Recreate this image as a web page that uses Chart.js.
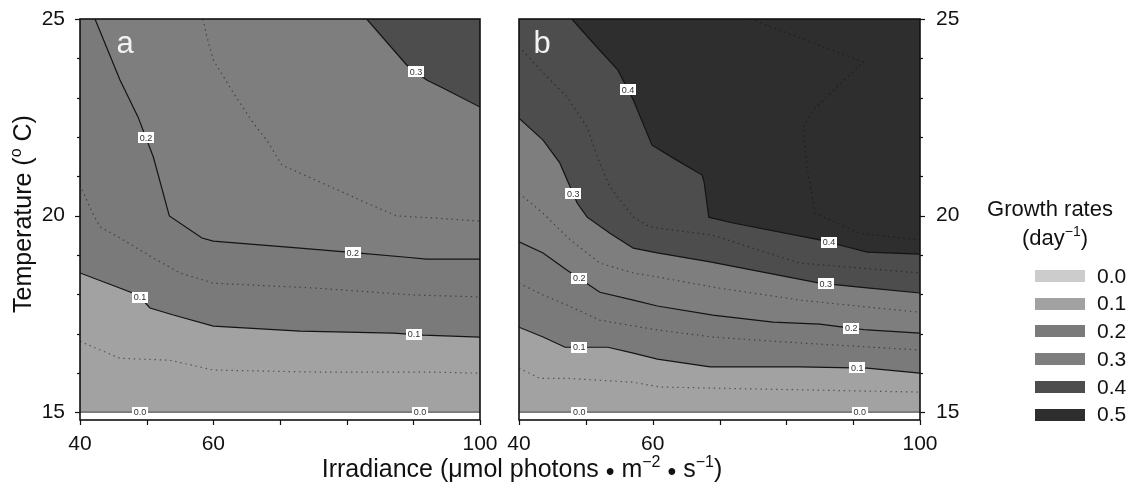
<!DOCTYPE html>
<html><head><meta charset="utf-8">
<script src="https://cdn.jsdelivr.net/npm/chart.js@4.4.0/dist/chart.umd.min.js"></script>
<style>
html,body{margin:0;padding:0;background:#fff;}
#wrap{position:relative;width:1132px;height:492px;overflow:hidden;}
canvas{position:absolute;left:0;top:0;width:1132px;height:492px;}
</style></head><body>
<div id="wrap"><canvas id="ca" width="1132" height="492"></canvas><canvas id="cb" width="1132" height="492"></canvas></div>
<script>
const FONT = '"Liberation Sans", Arial, Helvetica, sans-serif';

// ---- axes ----
const xTickVals = [40, 50, 60, 70, 80, 90, 100];
const xTickLabels = [40, 60, 100];
const yTickVals = [15, 16, 17, 18, 19, 20, 21, 22, 23, 24, 25];
const yTickLabels = [15, 20, 25];

// ---- legend ----
const legendLevels = ['0.0', '0.1', '0.2', '0.3', '0.4', '0.5'];
const legendColors = ['#cccccc', '#a2a2a2', '#7a7a7a', '#7e7e7e', '#4d4d4d', '#2e2e2e'];

// ---- panel a : contour lines (irradiance, temperature) ----
const aIrr00 = [40, 100];
const aTmp00 = [15, 15];
const aIrr01 = [40, 48.7, 50.5, 54, 60, 73, 87, 91.5, 100];
const aTmp01 = [18.54, 17.98, 17.65, 17.47, 17.19, 17.06, 17.01, 16.96, 16.91];
const aIrr02 = [42.25, 46, 48.7, 51, 53.4, 58.3, 60, 73, 81.5, 89, 92, 100];
const aTmp02 = [25, 23.45, 22.51, 21.49, 19.99, 19.43, 19.35, 19.17, 19.05, 18.94, 18.89, 18.89];
const aIrr03 = [83, 89, 92, 94.5, 100];
const aTmp03 = [25, 23.83, 23.45, 23.24, 22.76];
// dotted intermediate contours
const aIrr005 = [40, 46, 53.5, 60, 75, 93, 100];
const aTmp005 = [16.8, 16.37, 16.32, 16.07, 16.02, 16.02, 15.99];
const aIrr015 = [40, 41.8, 43, 45.5, 51.5, 55, 60, 75, 90, 100];
const aTmp015 = [20.78, 20.09, 19.71, 19.48, 18.87, 18.54, 18.28, 18.16, 17.98, 17.93];
const aIrr025 = [58.45, 59.05, 60, 63, 66, 68, 70.3, 73, 78, 83, 87.5, 93, 100];
const aTmp025 = [25, 24.54, 23.96, 23.12, 22.35, 21.92, 21.28, 21.08, 20.7, 20.32, 19.99, 19.94, 19.86];
// contour labels
const aLabLevel = ['0.2', '0.2', '0.1', '0.1', '0.3', '0.0', '0.0'];
const aLabIrr = [49.9, 80.9, 49, 90.1, 90.4, 49, 91];

// ---- panel b ----
const bIrr00 = [40, 100];
const bTmp00 = [15, 15];
const bIrr01 = [40, 43.6, 46.9, 53.3, 57.1, 60.7, 68.6, 82, 92.1, 100];
const bTmp01 = [17.16, 16.91, 16.65, 16.65, 16.5, 16.35, 16.15, 16.15, 16.12, 15.99];
const bIrr02 = [40, 43.6, 47.2, 52.1, 57.1, 60.7, 69, 78, 85, 88.5, 92.1, 100];
const bTmp02 = [19.33, 19.05, 18.61, 18.05, 17.85, 17.7, 17.47, 17.29, 17.24, 17.16, 17.09, 17.01];
const bIrr03 = [40, 43.6, 46.1, 48.7, 50.2, 53.6, 57.1, 60.7, 68.6, 85, 92.1, 100];
const bTmp03 = [22.48, 21.92, 21.34, 20.32, 19.96, 19.55, 19.17, 19.05, 18.82, 18.28, 18.16, 18.03];
const bIrr04 = [47.9, 51.1, 54.8, 57.1, 59.9, 63.6, 67.4, 67.7, 68.4, 72, 85, 89.1, 92.1, 100];
const bTmp04 = [25, 24.39, 23.7, 22.94, 21.79, 21.41, 21.03, 20.85, 19.96, 19.81, 19.38, 19.2, 19.07, 19.02];
const bIrr005 = [40, 43.1, 47.2, 57.1, 61.1, 69, 100];
const bTmp005 = [16.12, 15.86, 15.86, 15.76, 15.64, 15.61, 15.51];
const bIrr015 = [40, 43.6, 47.2, 52.1, 60.7, 69, 82, 100];
const bTmp015 = [18.28, 17.98, 17.72, 17.34, 17.09, 16.91, 16.76, 16.58];
const bIrr025 = [40, 43.6, 47.2, 52.1, 57.1, 60.7, 69, 82, 100];
const bTmp025 = [20.57, 20.06, 19.45, 18.79, 18.54, 18.44, 18.18, 17.85, 17.54];
const bIrr035 = [40, 43.6, 47.2, 50.2, 51.7, 53.6, 57.1, 59.6, 69, 82, 100];
const bTmp035 = [24.3, 23.63, 23.02, 22.25, 21.49, 20.73, 19.96, 19.71, 19.5, 18.79, 18.54];
const bIrr045 = [74.6, 91.5, 84, 82.5, 83.1, 84.3, 91, 100];
const bTmp045 = [25, 23.91, 22.68, 22.25, 21.23, 20.06, 19.55, 19.38];
const bLabLevel = ['0.4', '0.4', '0.3', '0.3', '0.2', '0.2', '0.1', '0.1', '0.0', '0.0'];
const bLabIrr = [56.3, 86.4, 48.1, 85.9, 49, 89.7, 49, 90.6, 49, 91];

// ---------------------------------------------------------------
function pts(ix, ty) { return ix.map((x, i) => ({ x: x, y: ty[i] })); }
function solid(ix, ty, fillColor, order, lineColor) {
  return { data: pts(ix, ty), borderColor: lineColor || '#141414', borderWidth: 1.2, pointRadius: 0,
    tension: 0, fill: 'end', backgroundColor: fillColor, order: order };
}
function dotted(ix, ty) {
  return { data: pts(ix, ty), borderColor: 'rgba(15,15,15,0.55)', borderWidth: 1.2, borderDash: [1.4, 3.8],
    pointRadius: 0, tension: 0, fill: false, order: 0 };
}
function interp(ix, ty, x) {
  for (let i = 0; i < ix.length - 1; i++) {
    if (x >= ix[i] && x <= ix[i + 1]) {
      const t = (x - ix[i]) / (ix[i + 1] - ix[i] || 1);
      return ty[i] + t * (ty[i + 1] - ty[i]);
    }
  }
  return ty[ty.length - 1];
}
function richText(ctx, segs, x, y, size, align) {
  const w = segs.map(s => { ctx.font = (s.sup ? Math.round(size * 0.62) : size) + 'px ' + FONT; return ctx.measureText(s.t).width; });
  const total = w.reduce((a, b) => a + b, 0);
  let cx = align === 'left' ? x : x - total / 2;
  ctx.textAlign = 'left'; ctx.textBaseline = 'alphabetic';
  segs.forEach((s, i) => {
    ctx.font = (s.sup ? Math.round(size * 0.62) : size) + 'px ' + FONT;
    ctx.fillText(s.t, cx, y + (s.sup ? -size * 0.42 : 0) + (s.dy || 0));
    cx += w[i];
  });
}

function panelPlugin(opts) {
  return {
    id: 'panel' + opts.letter,
    afterDatasetsDraw(chart) {
      const ctx = chart.ctx, a = chart.chartArea, xs = chart.scales.x, ys = chart.scales.y;
      ctx.save();
      // contour labels
      opts.labLevel.forEach((lev, i) => {
        const line = opts.lines[lev];
        const irr = opts.labIrr[i];
        const t = interp(line[0], line[1], irr);
        const px = xs.getPixelForValue(irr), py = ys.getPixelForValue(t);
        ctx.fillStyle = '#ffffff';
        ctx.fillRect(Math.round(px - 8), Math.round(py - 5.5), 16, 11);
        ctx.fillStyle = '#333';
        ctx.font = '9px ' + FONT;
        ctx.textAlign = 'center'; ctx.textBaseline = 'middle';
        ctx.fillText(lev, px, py + 0.5);
      });
      // frame
      ctx.strokeStyle = '#111'; ctx.lineWidth = 1.6;
      ctx.strokeRect(a.left, a.top, a.right - a.left, a.bottom - a.top);
      // ticks
      ctx.lineWidth = 1.2;
      xTickVals.forEach(v => {
        const px = Math.round(xs.getPixelForValue(v)) + 0.5;
        ctx.beginPath(); ctx.moveTo(px, a.bottom); ctx.lineTo(px, a.bottom + 5); ctx.stroke();
      });
      yTickVals.forEach(v => {
        const py = Math.round(ys.getPixelForValue(v)) + 0.5;
        const len = yTickLabels.includes(v) ? 5 : 3;
        ctx.beginPath();
        if (opts.side === 'left') { ctx.moveTo(a.left, py); ctx.lineTo(a.left - len, py); }
        else { ctx.moveTo(a.right, py); ctx.lineTo(a.right + len, py); }
        ctx.stroke();
      });
      // panel letter
      ctx.fillStyle = '#f2f2f2';
      ctx.font = '31px ' + FONT;
      ctx.textAlign = 'center'; ctx.textBaseline = 'alphabetic';
      ctx.fillText(opts.letter, a.left + opts.letterDx, a.top + 34);
      ctx.restore();
    },
    afterDraw(chart) {
      if (opts.after) opts.after(chart);
    }
  };
}

function scalesFor(side) {
  return {
    x: { type: 'linear', min: 40, max: 100,
      afterBuildTicks: s => { s.ticks = xTickVals.map(v => ({ value: v })); },
      afterFit: s => { s.height = 72; s.paddingLeft = 0; s.paddingRight = 0; },
      ticks: { autoSkip: false, maxRotation: 0, padding: 12, color: '#111', font: { size: 21, family: FONT },
        callback: v => xTickLabels.includes(v) ? String(v) : '' },
      grid: { display: false, drawTicks: false }, border: { display: false } },
    y: { type: 'linear', min: 14.8, max: 25, position: side,
      afterBuildTicks: s => { s.ticks = yTickVals.map(v => ({ value: v })); },
      afterFit: s => { s.width = side === 'left' ? 80 : 60; s.paddingTop = 0; s.paddingBottom = 0; },
      ticks: { autoSkip: false, padding: side === 'left' ? 15 : 16, color: '#111', font: { size: 21, family: FONT },
        callback: v => yTickLabels.includes(v) ? String(v) : '' },
      grid: { display: false, drawTicks: false }, border: { display: false } }
  };
}

const common = {
  responsive: false, animation: false, devicePixelRatio: 1,
  plugins: { legend: { display: false }, tooltip: { enabled: false }, filler: { drawTime: 'beforeDatasetsDraw' } },
  elements: { line: { borderCapStyle: 'butt' } }
};

// ---------------- chart a ----------------
const aLines = { '0.0': [aIrr00, aTmp00], '0.1': [aIrr01, aTmp01], '0.2': [aIrr02, aTmp02], '0.3': [aIrr03, aTmp03] };
new Chart(document.getElementById('ca'), {
  type: 'line',
  data: { datasets: [
    solid(aIrr00, aTmp00, legendColors[1], 10, '#5a5a5a'),
    solid(aIrr01, aTmp01, legendColors[2], 9),
    solid(aIrr02, aTmp02, legendColors[3], 8),
    solid(aIrr03, aTmp03, legendColors[4], 7),
    dotted(aIrr005, aTmp005), dotted(aIrr015, aTmp015), dotted(aIrr025, aTmp025)
  ] },
  options: Object.assign({}, common, {
    layout: { padding: { left: 0, right: 652, top: 19, bottom: 0 } },
    scales: scalesFor('left')
  }),
  plugins: [panelPlugin({ letter: 'a', side: 'left', letterDx: 45, lines: aLines, labLevel: aLabLevel, labIrr: aLabIrr,
    after(chart) {
      const ctx = chart.ctx;
      ctx.save();
      ctx.translate(31, 214); ctx.rotate(-Math.PI / 2);
      ctx.fillStyle = '#111';
      richText(ctx, [{ t: 'Temperature (' }, { t: 'o', sup: true }, { t: ' C)' }], 0, 0, 25, 'center');
      ctx.restore();
    } })]
});

// ---------------- chart b ----------------
const bLines = { '0.0': [bIrr00, bTmp00], '0.1': [bIrr01, bTmp01], '0.2': [bIrr02, bTmp02], '0.3': [bIrr03, bTmp03], '0.4': [bIrr04, bTmp04] };
new Chart(document.getElementById('cb'), {
  type: 'line',
  data: { datasets: [
    solid(bIrr00, bTmp00, legendColors[1], 10, '#5a5a5a'),
    solid(bIrr01, bTmp01, legendColors[2], 9),
    solid(bIrr02, bTmp02, legendColors[3], 8),
    solid(bIrr03, bTmp03, legendColors[4], 7),
    solid(bIrr04, bTmp04, legendColors[5], 6),
    dotted(bIrr005, bTmp005), dotted(bIrr015, bTmp015), dotted(bIrr025, bTmp025),
    dotted(bIrr035, bTmp035), dotted(bIrr045, bTmp045)
  ] },
  options: Object.assign({}, common, {
    layout: { padding: { left: 519, right: 152, top: 19, bottom: 0 } },
    scales: scalesFor('right')
  }),
  plugins: [panelPlugin({ letter: 'b', side: 'right', letterDx: 23, lines: bLines, labLevel: bLabLevel, labIrr: bLabIrr,
    after(chart) {
      const ctx = chart.ctx;
      ctx.save();
      ctx.fillStyle = '#111';
      // x axis title (shared)
      richText(ctx, [{ t: 'Irradiance (\u03bcmol photons ' }, { t: '\u2022', dy: 3 }, { t: ' m' }, { t: '\u22122', sup: true },
        { t: ' ' }, { t: '\u2022', dy: 3 }, { t: ' s' }, { t: '\u22121', sup: true }, { t: ')' }], 522, 477, 25, 'center');
      // legend
      richText(ctx, [{ t: 'Growth rates' }], 1050, 216, 22, 'center');
      richText(ctx, [{ t: '(day' }, { t: '\u22121', sup: true }, { t: ')' }], 1055, 245, 22, 'center');
      legendLevels.forEach((lev, i) => {
        const cy = 276 + i * 27.7;
        ctx.fillStyle = legendColors[i];
        ctx.fillRect(1035, Math.round(cy - 6), 50, 12);
        ctx.fillStyle = '#111';
        ctx.font = '21px ' + FONT;
        ctx.textAlign = 'left'; ctx.textBaseline = 'middle';
        ctx.fillText(lev, 1097, cy + 1);
      });
      ctx.restore();
    } })]
});
</script>
</body></html>
